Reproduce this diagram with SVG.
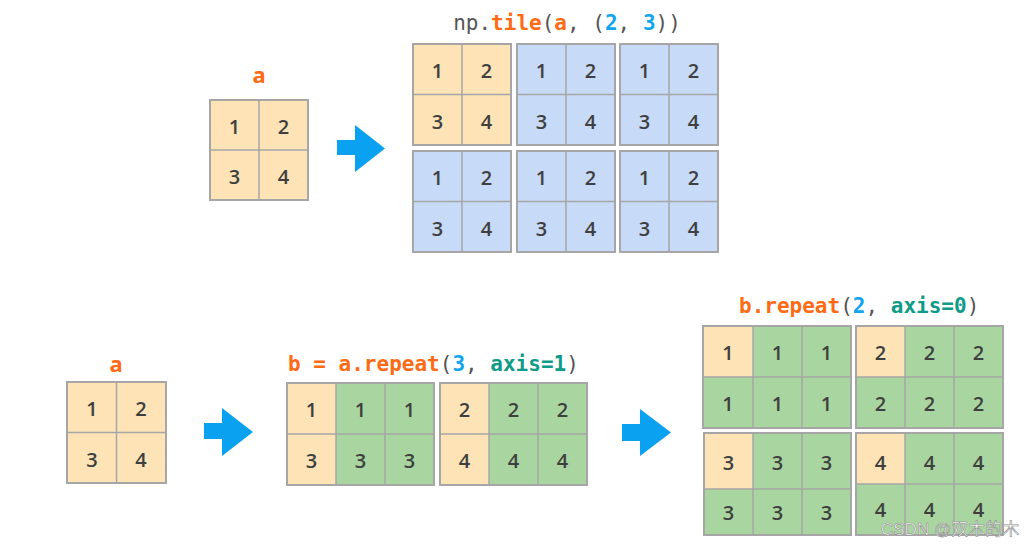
<svg xmlns="http://www.w3.org/2000/svg" width="1033" height="548" viewBox="0 0 1033 548">
<style>
.y{fill:#FDE3B6}
.b{fill:#C7DAF7}
.g{fill:#A9D6A0}
.frame{fill:none;stroke:#A6A6A6;stroke-width:2}
.ln{stroke:#A6A6A6;stroke-width:1.5}
.d{font-family:"Open Sans","Noto Sans",sans-serif;font-size:20px;font-weight:600;fill:#3F3F3F;text-anchor:middle}
.code{font-family:"DejaVu Sans Mono","Liberation Mono",monospace;font-size:21px;fill:#555555}
.o{fill:#FF6A14;font-weight:bold}
.c{fill:#12A5EE;font-weight:bold}
.t{fill:#0E9B88;font-weight:bold}
.lbl{font-family:"Noto Sans","Open Sans",sans-serif;font-size:22px;font-weight:bold;fill:#FF6A14;text-anchor:middle}
.arrow{fill:#0BA1F1}
</style>
<rect width="1033" height="548" fill="#ffffff"/>

<!-- top a -->
<g id="a-top">
<text class="lbl" x="259" y="83">a</text>
<rect class="y" x="210" y="100" width="98" height="100"/>
<line class="ln" x1="259" y1="100" x2="259" y2="200"/><line class="ln" x1="210" y1="150" x2="308" y2="150"/>
<rect class="frame" x="210" y="100" width="98" height="100"/>
<text class="d" x="234.5" y="133.5">1</text><text class="d" x="283.5" y="133.5">2</text>
<text class="d" x="234.5" y="183.5">3</text><text class="d" x="283.5" y="183.5">4</text>
</g>

<!-- tile -->
<g id="tile">
<text class="code" x="567" y="30" text-anchor="middle">np.<tspan class="o">tile</tspan>(<tspan class="o">a</tspan>, (<tspan class="c">2</tspan>, <tspan class="c">3</tspan>))</text>
<g id="tile-00">
<rect class="y" x="413" y="44" width="98" height="101"/>
<line class="ln" x1="462" y1="44" x2="462" y2="145"/><line class="ln" x1="413" y1="94.5" x2="511" y2="94.5"/>
<rect class="frame" x="413" y="44" width="98" height="101"/>
<text class="d" x="437.5" y="77.5">1</text><text class="d" x="486.5" y="77.5">2</text>
<text class="d" x="437.5" y="128.5">3</text><text class="d" x="486.5" y="128.5">4</text>
</g>
<g id="tile-01">
<rect class="b" x="517" y="44" width="98" height="101"/>
<line class="ln" x1="566" y1="44" x2="566" y2="145"/><line class="ln" x1="517" y1="94.5" x2="615" y2="94.5"/>
<rect class="frame" x="517" y="44" width="98" height="101"/>
<text class="d" x="541.5" y="77.5">1</text><text class="d" x="590.5" y="77.5">2</text>
<text class="d" x="541.5" y="128.5">3</text><text class="d" x="590.5" y="128.5">4</text>
</g>
<g id="tile-02">
<rect class="b" x="620" y="44" width="98" height="101"/>
<line class="ln" x1="669" y1="44" x2="669" y2="145"/><line class="ln" x1="620" y1="94.5" x2="718" y2="94.5"/>
<rect class="frame" x="620" y="44" width="98" height="101"/>
<text class="d" x="644.5" y="77.5">1</text><text class="d" x="693.5" y="77.5">2</text>
<text class="d" x="644.5" y="128.5">3</text><text class="d" x="693.5" y="128.5">4</text>
</g>
<g id="tile-10">
<rect class="b" x="413" y="151" width="98" height="101"/>
<line class="ln" x1="462" y1="151" x2="462" y2="252"/><line class="ln" x1="413" y1="201.5" x2="511" y2="201.5"/>
<rect class="frame" x="413" y="151" width="98" height="101"/>
<text class="d" x="437.5" y="184.5">1</text><text class="d" x="486.5" y="184.5">2</text>
<text class="d" x="437.5" y="235.5">3</text><text class="d" x="486.5" y="235.5">4</text>
</g>
<g id="tile-11">
<rect class="b" x="517" y="151" width="98" height="101"/>
<line class="ln" x1="566" y1="151" x2="566" y2="252"/><line class="ln" x1="517" y1="201.5" x2="615" y2="201.5"/>
<rect class="frame" x="517" y="151" width="98" height="101"/>
<text class="d" x="541.5" y="184.5">1</text><text class="d" x="590.5" y="184.5">2</text>
<text class="d" x="541.5" y="235.5">3</text><text class="d" x="590.5" y="235.5">4</text>
</g>
<g id="tile-12">
<rect class="b" x="620" y="151" width="98" height="101"/>
<line class="ln" x1="669" y1="151" x2="669" y2="252"/><line class="ln" x1="620" y1="201.5" x2="718" y2="201.5"/>
<rect class="frame" x="620" y="151" width="98" height="101"/>
<text class="d" x="644.5" y="184.5">1</text><text class="d" x="693.5" y="184.5">2</text>
<text class="d" x="644.5" y="235.5">3</text><text class="d" x="693.5" y="235.5">4</text>
</g>
</g>

<!-- bottom a -->
<g id="a-bottom">
<text class="lbl" x="116" y="372">a</text>
<rect class="y" x="67" y="382" width="99" height="101"/>
<line class="ln" x1="116.5" y1="382" x2="116.5" y2="483"/><line class="ln" x1="67" y1="432.5" x2="166" y2="432.5"/>
<rect class="frame" x="67" y="382" width="99" height="101"/>
<text class="d" x="92" y="415.5">1</text><text class="d" x="141" y="415.5">2</text>
<text class="d" x="92" y="466.5">3</text><text class="d" x="141" y="466.5">4</text>
</g>

<!-- b = a.repeat(3, axis=1) -->
<g id="repeat-axis1">
<text class="code" x="288" y="371"><tspan class="o">b = a.repeat</tspan>(<tspan class="c">3</tspan>, <tspan class="t">axis=1</tspan>)</text>
<g id="r1-left">
<rect class="y" x="287" y="383" width="147" height="102"/>
<rect class="g" x="336" y="383" width="98" height="102"/>
<line class="ln" x1="336" y1="383" x2="336" y2="485"/><line class="ln" x1="385" y1="383" x2="385" y2="485"/><line class="ln" x1="287" y1="434" x2="434" y2="434"/>
<rect class="frame" x="287" y="383" width="147" height="102"/>
<text class="d" x="311.5" y="417">1</text><text class="d" x="360.5" y="417">1</text><text class="d" x="409.5" y="417">1</text>
<text class="d" x="311.5" y="468">3</text><text class="d" x="360.5" y="468">3</text><text class="d" x="409.5" y="468">3</text>
</g>
<g id="r1-right">
<rect class="y" x="440" y="383" width="147" height="102"/>
<rect class="g" x="489" y="383" width="98" height="102"/>
<line class="ln" x1="489" y1="383" x2="489" y2="485"/><line class="ln" x1="538" y1="383" x2="538" y2="485"/><line class="ln" x1="440" y1="434" x2="587" y2="434"/>
<rect class="frame" x="440" y="383" width="147" height="102"/>
<text class="d" x="464.5" y="417">2</text><text class="d" x="513.5" y="417">2</text><text class="d" x="562.5" y="417">2</text>
<text class="d" x="464.5" y="468">4</text><text class="d" x="513.5" y="468">4</text><text class="d" x="562.5" y="468">4</text>
</g>
</g>

<!-- b.repeat(2, axis=0) -->
<g id="repeat-axis0">
<text class="code" x="739" y="313"><tspan class="o">b.repeat</tspan>(<tspan class="c">2</tspan>, <tspan class="t">axis=0</tspan>)</text>
<g id="r0-tl">
<rect class="g" x="703" y="326" width="148" height="102"/>
<rect class="y" x="703" y="326" width="50" height="51"/>
<line class="ln" x1="753" y1="326" x2="753" y2="428"/><line class="ln" x1="802" y1="326" x2="802" y2="428"/><line class="ln" x1="703" y1="377" x2="851" y2="377"/>
<rect class="frame" x="703" y="326" width="148" height="102"/>
<text class="d" x="728" y="360">1</text><text class="d" x="777.5" y="360">1</text><text class="d" x="826.5" y="360">1</text>
<text class="d" x="728" y="411">1</text><text class="d" x="777.5" y="411">1</text><text class="d" x="826.5" y="411">1</text>
</g>
<g id="r0-tr">
<rect class="g" x="856" y="326" width="147" height="102"/>
<rect class="y" x="856" y="326" width="49" height="51"/>
<line class="ln" x1="905" y1="326" x2="905" y2="428"/><line class="ln" x1="954" y1="326" x2="954" y2="428"/><line class="ln" x1="856" y1="377" x2="1003" y2="377"/>
<rect class="frame" x="856" y="326" width="147" height="102"/>
<text class="d" x="880.5" y="360">2</text><text class="d" x="929.5" y="360">2</text><text class="d" x="978.5" y="360">2</text>
<text class="d" x="880.5" y="411">2</text><text class="d" x="929.5" y="411">2</text><text class="d" x="978.5" y="411">2</text>
</g>
<g id="r0-bl">
<rect class="g" x="704" y="433" width="147" height="102"/>
<rect class="y" x="704" y="433" width="49" height="56"/>
<line class="ln" x1="753" y1="433" x2="753" y2="535"/><line class="ln" x1="802" y1="433" x2="802" y2="535"/><line class="ln" x1="704" y1="489" x2="851" y2="489"/>
<rect class="frame" x="704" y="433" width="147" height="102"/>
<text class="d" x="728.5" y="469.5">3</text><text class="d" x="777.5" y="469.5">3</text><text class="d" x="826.5" y="469.5">3</text>
<text class="d" x="728.5" y="519.5">3</text><text class="d" x="777.5" y="519.5">3</text><text class="d" x="826.5" y="519.5">3</text>
</g>
<g id="r0-br">
<rect class="g" x="856" y="433" width="147" height="102"/>
<rect class="y" x="856" y="433" width="49" height="51"/>
<line class="ln" x1="905" y1="433" x2="905" y2="535"/><line class="ln" x1="954" y1="433" x2="954" y2="535"/><line class="ln" x1="856" y1="484" x2="1003" y2="484"/>
<rect class="frame" x="856" y="433" width="147" height="102"/>
<text class="d" x="880.5" y="469.5">4</text><text class="d" x="929.5" y="469.5">4</text><text class="d" x="978.5" y="469.5">4</text>
<text class="d" x="880.5" y="517">4</text><text class="d" x="929.5" y="517">4</text><text class="d" x="978.5" y="517">4</text>
</g>
</g>

<!-- connectors -->
<g id="connectors">
<path class="arrow" d="M337,140 H355 V125 L385,148.5 L355,172 V155 H337 Z"/>
<path class="arrow" d="M204,423 H222 V408 L253,432 L222,456 V439 H204 Z"/>
<path class="arrow" d="M622,424 H640 V409 L671,432.5 L640,456 V441 H622 Z"/>
</g>

<text x="881" y="535" font-family="'Liberation Sans','Noto Sans CJK SC',sans-serif" font-size="17" fill="#ffffff" stroke="#8c8c8c" stroke-width="0.6">CSDN @双木的木</text>
</svg>
